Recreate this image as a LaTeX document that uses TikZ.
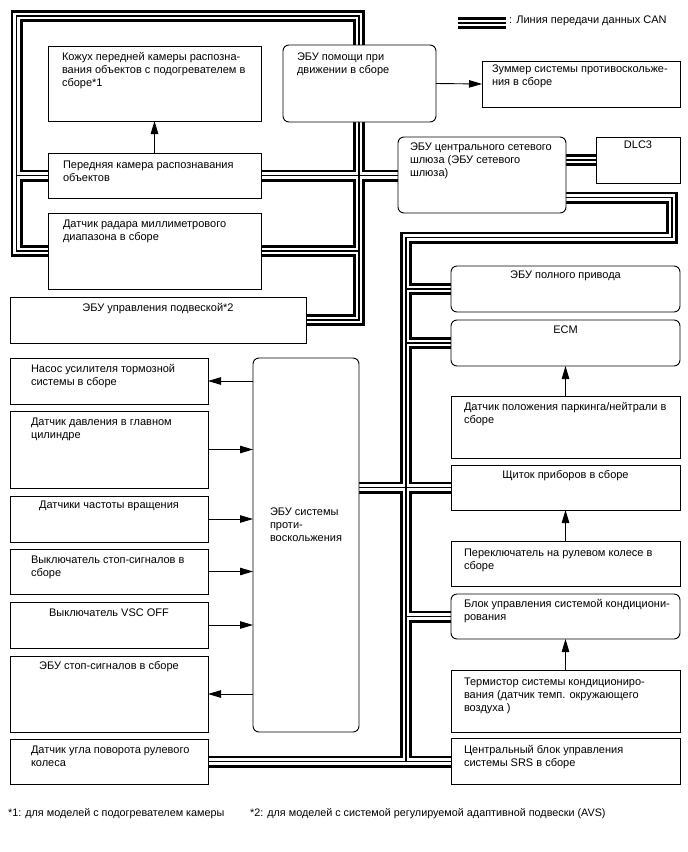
\documentclass[tikz,border=0pt]{standalone}
\usepackage{fontspec}
\setmainfont{Liberation Sans}
\usetikzlibrary{arrows.meta}
\pgfdeclarelayer{bg}
\pgfsetlayers{bg,main}
% left-aligned text: width, height, indent, first baseline, text
\newcommand\lbx[5]{\parbox[c][#2pt][t]{#1pt}{\raggedright\leftskip=#3pt\relax\rule{0pt}{#4pt}#5}}
% centred text: width, height, first baseline, text
\newcommand\cbx[4]{\parbox[c][#2pt][t]{#1pt}{\centering\rule{0pt}{#3pt}#4}}
\newcommand\canpaths[1]{%
  \draw[#1] (radar.center) -- (L1) -- (L2) -- (C1) -- (C2) -- (susp.center);
  \draw[#1] (L2 |- cam.center) -- (gw.center |- cam.center);
  \draw[#1] (radar.center) -- (C1 |- radar.center);
  \draw[#1] (gw.center |- dlc.center) -- (dlc.center);
  \draw[#1] (gw.center |- R1) -- (R1) -- (R2) -- (R3) -- (R4);
  \draw[#1] (R3 |- awd.center) -- (awd.center);
  \draw[#1] (R3 |- ecm.center) -- (ecm.center);
  \draw[#1] (abs.center |- meter.center) -- (meter.center);
  \draw[#1] (R3 |- ac.center) -- (ac.center);
  \draw[#1] (steer.center) -- (steer.center -| srs.center);
  \draw[#1] (lg1) -- (lg2);
}
\begin{document}
\begin{tikzpicture}[x=1pt,y=-1pt,
  every node/.style={font=\fontsize{11}{13}\selectfont},
  box/.style={draw, fill=white, line width=0.9pt, inner sep=0pt, outer sep=0pt, anchor=north west},
  rbox/.style={box, rounded corners=6pt},
  arr/.style={-{Triangle[length=13pt,width=7.5pt]}, line width=0.9pt},
  canA/.style={line width=12pt, black, line join=miter, line cap=butt},
  canB/.style={line width=6.8pt, white, line join=miter, line cap=butt},
  canC/.style={line width=1.5pt, black, line join=miter, line cap=butt},
  fn/.style={font=\fontsize{10.8}{13}\selectfont, anchor=base west, inner sep=0pt}]
\useasboundingbox (0,0) rectangle (688,852);

% bus corner points
\coordinate (L1) at (16.5,251);
\coordinate (L2) at (16.5,16);
\coordinate (C1) at (359,16);
\coordinate (C2) at (359,320);
\coordinate (R1) at (672,197.5);
\coordinate (R2) at (672,237.5);
\coordinate (R3) at (406,237.5);
\coordinate (R4) at (406,761);
\coordinate (lg1) at (458,23);
\coordinate (lg2) at (506,23);

% boxes
\node[box] (kozh) at (48,46) {\lbx{213}{75}{14}{14.5}{Кожух передней камеры распозна-\\вания объектов с подогревателем в\\сборе*1}};
\node[box] (cam) at (48,153) {\lbx{213}{45}{15}{15}{Передняя камера распознавания\\объектов}};
\node[box] (radar) at (48,213) {\lbx{213}{76}{15}{14.5}{Датчик радара миллиметрового\\диапазона в сборе}};
\node[rbox] (assist) at (283,45) {\lbx{153}{77}{14}{15}{ЭБУ помощи при\\движении в сборе}};
\node[box] (buzzer) at (482,61) {\lbx{198}{46}{10}{11.5}{Зуммер системы противоскольже-\\ния в сборе}};
\node[rbox] (gw) at (398,137) {\lbx{168}{76}{12}{13}{ЭБУ центрального сетевого\\шлюза (ЭБУ сетевого\\шлюза)}};
\node[box] (dlc) at (596,137) {\cbx{84}{46}{11.5}{DLC3}};
\node[rbox] (awd) at (451,266) {\cbx{229}{46}{12}{ЭБУ полного привода}};
\node[rbox] (ecm) at (451,320) {\cbx{229}{46}{13}{ECM}};
\node[box] (pnp) at (451,396) {\lbx{229}{62}{13}{14}{Датчик положения паркинга/нейтрали в\\сборе}};
\node[box] (meter) at (451,465) {\cbx{229}{45}{13.5}{Щиток приборов в сборе}};
\node[box] (sw) at (451,541) {\lbx{229}{45}{13}{15}{Переключатель на рулевом колесе в\\сборе}};
\node[rbox] (ac) at (451,594) {\lbx{229}{45}{13}{13}{Блок управления системой кондициони-\\рования}};
\node[box] (therm) at (451,670) {\lbx{229}{62}{13}{15}{Термистор системы кондициониро-\\вания (датчик темп. окружающего\\воздуха )}};
\node[box] (srs) at (451,738) {\lbx{229}{46}{13}{15.5}{Центральный блок управления\\системы SRS в сборе}};
\node[box] (susp) at (10,297) {\cbx{296}{46}{14}{ЭБУ управления подвеской*2}};
\node[box] (pump) at (10,358) {\lbx{198}{46}{21}{14}{Насос усилителя тормозной\\системы в сборе}};
\node[box] (mcyl) at (10,411) {\lbx{198}{77}{21}{14}{Датчик давления в главном\\цилиндре}};
\node[box] (speed) at (10,496) {\cbx{198}{46}{12}{Датчики частоты вращения}};
\node[box] (stopsw) at (10,549) {\lbx{198}{45}{21}{14}{Выключатель стоп-сигналов в\\сборе}};
\node[box] (vsc) at (10,602) {\cbx{198}{46}{14}{Выключатель VSC OFF}};
\node[box] (stopecu) at (10,656) {\cbx{198}{76}{13}{ЭБУ стоп-сигналов в сборе}};
\node[box] (steer) at (10,739) {\lbx{198}{45}{21}{14}{Датчик угла поворота рулевого\\колеса}};
\node[rbox] (abs) at (253,358) {\lbx{106}{374}{17}{157}{ЭБУ системы\\проти-\\воскольжения}};

% legend and footnotes
\node[anchor=base west, inner sep=0pt] (legtxt) at (509,23) {: Линия передачи данных CAN};
\node[fn] (fn1) at (8,816) {*1: для моделей с подогревателем камеры};
\node[fn] (fn2) at (250,816) {*2: для моделей с системой регулируемой адаптивной подвески (AVS)};

% signal arrows
\draw[arr] (cam.north) -- (kozh.south);
\draw[arr] (assist.east) -- (buzzer.west);
\draw[arr] (pnp.north) -- (ecm.south);
\draw[arr] (sw.north) -- (meter.south);
\draw[arr] (therm.north) -- (ac.south);
\draw[arr] (abs.west |- pump.east) -- (pump.east);
\draw[arr] (mcyl.east) -- (abs.west |- mcyl.east);
\draw[arr] (speed.east) -- (abs.west |- speed.east);
\draw[arr] (stopsw.east) -- (abs.west |- stopsw.east);
\draw[arr] (vsc.east) -- (abs.west |- vsc.east);
\draw[arr] (abs.west |- stopecu.east) -- (stopecu.east);

% CAN bus lines (three passes: outer black, white gap, centre line)
\begin{pgfonlayer}{bg}
  \canpaths{canA}
  \canpaths{canB}
  \canpaths{canC}
\end{pgfonlayer}
\end{tikzpicture}
\end{document}
